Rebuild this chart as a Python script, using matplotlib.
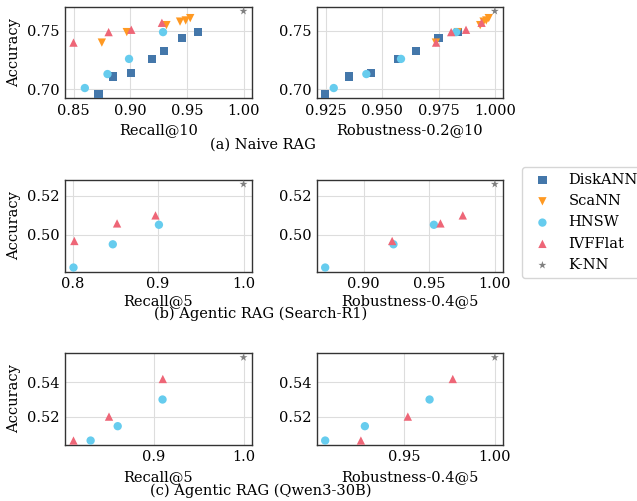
import matplotlib
matplotlib.use("Agg")
import matplotlib.pyplot as plt
from matplotlib.ticker import MultipleLocator, FormatStrFormatter

plt.rcParams['font.family'] = 'DejaVu Serif'
plt.rcParams['font.size'] = 10.5

# (a) Naive RAG
a_disk_recall = [0.872, 0.885, 0.901, 0.919, 0.930, 0.946, 0.960]
a_disk_rob = [0.9246, 0.9351, 0.9449, 0.9570, 0.9650, 0.9750, 0.9837]
a_disk_acc = [0.696, 0.711, 0.714, 0.726, 0.733, 0.744, 0.749]
a_scann_recall = [0.875, 0.897, 0.932, 0.944, 0.949, 0.953]
a_scann_rob = [0.9738, 0.9835, 0.9935, 0.9950, 0.9962, 0.9973]
a_scann_acc = [0.740, 0.749, 0.755, 0.758, 0.759, 0.761]
a_hnsw_recall = [0.860, 0.880, 0.899, 0.929]
a_hnsw_rob = [0.9284, 0.9429, 0.9583, 0.9828]
a_hnsw_acc = [0.701, 0.713, 0.726, 0.749]
a_ivf_recall = [0.850, 0.881, 0.901, 0.928]
a_ivf_rob = [0.9739, 0.9806, 0.9872, 0.9941]
a_ivf_acc = [0.740, 0.749, 0.751, 0.757]
a_knn_acc = 0.767

# (b) Agentic RAG (Search-R1)
b_hnsw_recall = [0.801, 0.847, 0.901]
b_hnsw_rob = [0.8708, 0.9228, 0.9536]
b_hnsw_acc = [0.4833, 0.4952, 0.5052]
b_ivf_recall = [0.802, 0.852, 0.897]
b_ivf_rob = [0.9218, 0.9586, 0.9756]
b_ivf_acc = [0.4969, 0.5059, 0.5100]
b_knn_acc = 0.526

# (c) Agentic RAG (Qwen3-30B)
c_hnsw_recall = [0.8295, 0.8597, 0.9097]
c_hnsw_rob = [0.9064, 0.9283, 0.9640]
c_hnsw_acc = [0.506, 0.5144, 0.530]
c_ivf_recall = [0.8104, 0.850, 0.910]
c_ivf_rob = [0.9261, 0.952, 0.9768]
c_ivf_acc = [0.506, 0.520, 0.542]
c_knn_acc = 0.5546

colors = {'DiskANN': '#4477AA', 'ScaNN': '#FF9922', 'HNSW': '#66CCEE',
          'IVFFlat': '#EE6677', 'K-NN': '#808080'}
markers = {'DiskANN': 's', 'ScaNN': 'v', 'HNSW': 'o', 'IVFFlat': '^', 'K-NN': '*'}
msize = 36

W, H = 637, 501
fig = plt.figure(figsize=(W / 100, H / 100), dpi=100)


def make_ax(x0, y0, x1, y1):
    return fig.add_axes([x0 / W, 1 - y1 / H, (x1 - x0) / W, (y1 - y0) / H])


def style(ax):
    ax.grid(True, color='#dddddd', linewidth=0.8)
    ax.set_axisbelow(True)
    for s in ax.spines.values():
        s.set_color('#333333')
        s.set_linewidth(1.0)
    ax.tick_params(length=0, pad=4, labelsize=10.5)


def draw(ax, series):
    for name, xs, ys in series:
        ax.scatter(xs, ys, marker=markers[name], color=colors[name], s=msize,
                   label=name, edgecolors='none', zorder=3)


rows = [(7, 98), (180, 271.7), (353.3, 444.7)]
cols = [(65, 252), (316.7, 503.3)]

# row a
ax = make_ax(cols[0][0], rows[0][0], cols[0][1], rows[0][1])
draw(ax, [('DiskANN', a_disk_recall, a_disk_acc), ('ScaNN', a_scann_recall, a_scann_acc),
          ('HNSW', a_hnsw_recall, a_hnsw_acc), ('IVFFlat', a_ivf_recall, a_ivf_acc),
          ('K-NN', [1.0], [a_knn_acc])])
ax.xaxis.set_major_locator(MultipleLocator(0.05))
ax.xaxis.set_major_formatter(FormatStrFormatter('%.2f'))
ax.yaxis.set_major_locator(MultipleLocator(0.05))
ax.yaxis.set_major_formatter(FormatStrFormatter('%.2f'))
ax.set_xlabel('Recall@10')
ax.set_ylabel('Accuracy')
style(ax)
handles, labels = ax.get_legend_handles_labels()

ax = make_ax(cols[1][0], rows[0][0], cols[1][1], rows[0][1])
draw(ax, [('DiskANN', a_disk_rob, a_disk_acc), ('ScaNN', a_scann_rob, a_scann_acc),
          ('HNSW', a_hnsw_rob, a_hnsw_acc), ('IVFFlat', a_ivf_rob, a_ivf_acc),
          ('K-NN', [1.0], [a_knn_acc])])
ax.xaxis.set_major_locator(MultipleLocator(0.025))
ax.xaxis.set_major_formatter(FormatStrFormatter('%.3f'))
ax.yaxis.set_major_locator(MultipleLocator(0.05))
ax.yaxis.set_major_formatter(FormatStrFormatter('%.2f'))
ax.set_xlabel('Robustness-0.2@10')
style(ax)

# row b
ax = make_ax(cols[0][0], rows[1][0], cols[0][1], rows[1][1])
draw(ax, [('HNSW', b_hnsw_recall, b_hnsw_acc), ('IVFFlat', b_ivf_recall, b_ivf_acc),
          ('K-NN', [1.0], [b_knn_acc])])
ax.xaxis.set_major_locator(MultipleLocator(0.1))
ax.xaxis.set_major_formatter(FormatStrFormatter('%.1f'))
ax.yaxis.set_major_locator(MultipleLocator(0.02))
ax.yaxis.set_major_formatter(FormatStrFormatter('%.2f'))
ax.set_xlabel('Recall@5', labelpad=2)
ax.set_ylabel('Accuracy')
style(ax)

ax = make_ax(cols[1][0], rows[1][0], cols[1][1], rows[1][1])
draw(ax, [('HNSW', b_hnsw_rob, b_hnsw_acc), ('IVFFlat', b_ivf_rob, b_ivf_acc),
          ('K-NN', [1.0], [b_knn_acc])])
ax.xaxis.set_major_locator(MultipleLocator(0.05))
ax.xaxis.set_major_formatter(FormatStrFormatter('%.2f'))
ax.yaxis.set_major_locator(MultipleLocator(0.02))
ax.yaxis.set_major_formatter(FormatStrFormatter('%.2f'))
ax.set_xlabel('Robustness-0.4@5', labelpad=2)
style(ax)

# row c
ax = make_ax(cols[0][0], rows[2][0], cols[0][1], rows[2][1])
draw(ax, [('HNSW', c_hnsw_recall, c_hnsw_acc), ('IVFFlat', c_ivf_recall, c_ivf_acc),
          ('K-NN', [1.0], [c_knn_acc])])
ax.xaxis.set_major_locator(MultipleLocator(0.1))
ax.xaxis.set_major_formatter(FormatStrFormatter('%.1f'))
ax.yaxis.set_major_locator(MultipleLocator(0.02))
ax.yaxis.set_major_formatter(FormatStrFormatter('%.2f'))
ax.set_xlabel('Recall@5')
ax.set_ylabel('Accuracy')
style(ax)

ax = make_ax(cols[1][0], rows[2][0], cols[1][1], rows[2][1])
draw(ax, [('HNSW', c_hnsw_rob, c_hnsw_acc), ('IVFFlat', c_ivf_rob, c_ivf_acc),
          ('K-NN', [1.0], [c_knn_acc])])
ax.xaxis.set_major_locator(MultipleLocator(0.05))
ax.xaxis.set_major_formatter(FormatStrFormatter('%.2f'))
ax.yaxis.set_major_locator(MultipleLocator(0.02))
ax.yaxis.set_major_formatter(FormatStrFormatter('%.2f'))
ax.set_xlabel('Robustness-0.4@5')
style(ax)

# captions
fig.text(263 / W, 1 - 145 / H, '(a) Naive RAG', ha='center', va='center', fontsize=10.5)
fig.text(261 / W, 1 - 314 / H, '(b) Agentic RAG (Search-R1)', ha='center', va='center', fontsize=10.5)
fig.text(261 / W, 1 - 491 / H, '(c) Agentic RAG (Qwen3-30B)', ha='center', va='center', fontsize=10.5)

fig.legend(handles, labels, loc='upper left', bbox_to_anchor=(522 / W, 1 - 167 / H),
           frameon=True, fontsize=10.5, borderaxespad=0, handletextpad=0.8,
           labelspacing=0.5, edgecolor='#cccccc', fancybox=True)

fig.savefig('out.png', dpi=100)
